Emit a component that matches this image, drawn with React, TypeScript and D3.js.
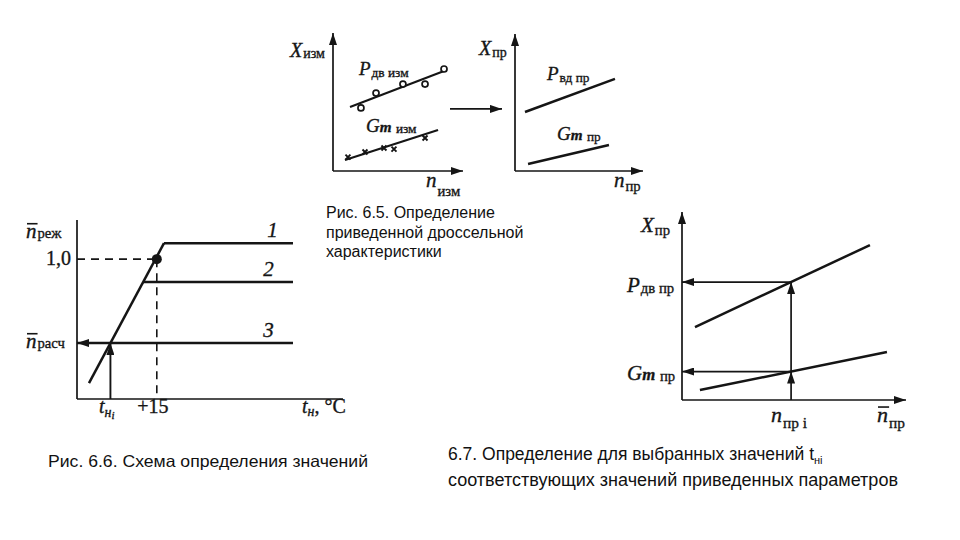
import React from "react";
import * as d3 from "d3";

// Рис. 6.5 — measured throttle characteristic (n_изм, X_изм), arbitrary units 0..10
const pdvMeasured = [[2.15, 4.57], [3.31, 5.65], [5.38, 6.3], [7.08, 6.3], [8.54, 7.39]];
const pdvMeasuredFit = [[1.31, 4.64], [8.54, 7.25]];
const gmMeasured = [[1.15, 1.01], [2.46, 1.38], [3.92, 1.67], [4.69, 1.59], [7.08, 2.39]];
const gmMeasuredFit = [[0.92, 0.8], [8.08, 2.97]];
// reduced characteristic (n_пр, X_пр)
const pvdReduced = [[0.78, 4.31], [7.81, 6.72]];
const gmReduced = [[1.02, 0.51], [7.34, 1.9]];

// Рис. 6.6 — t_н (units) vs n̄
const tempRamp = [[0.45, 0.114], [3.27, 1.114]];
const regimeLevels = [1.114, 0.836, 0.4];
const regimeNames = ["1", "2", "3"];
const regimeEnd = 8.12;
const designPoint = [3.0, 1.0];

// Рис. 6.7 — reduced params vs n̄_пр
const pdvReducedD = [[0.58, 3.88], [8.39, 8.24]];
const gmReducedD = [[0.8, 0.53], [9.15, 2.55]];
const nprI = 4.87;

const SERIF = '"Liberation Serif", "DejaVu Serif", serif';
const SANS = '"Liberation Sans", Arial, sans-serif';
const INK = "#151515";

const line = d3.line<number[]>().x((d) => d[0]).y((d) => d[1]);

function at(pts: number[][], x: number) {
  const [a, b] = pts;
  return a[1] + ((b[1] - a[1]) * (x - a[0])) / (b[0] - a[0]);
}
function xAt(pts: number[][], y: number) {
  const [a, b] = pts;
  return a[0] + ((b[0] - a[0]) * (y - a[1])) / (b[1] - a[1]);
}

// scanned look: a hairline stroke on serif glyphs
const inked = { stroke: INK, strokeWidth: 0.35, paintOrder: "stroke" } as any;

type LblProps = {
  x: number;
  y: number;
  main: string;
  m?: string;
  sub: string;
  dy?: number;
  size?: number;
  bar?: boolean;
};
const Lbl = ({ x, y, main, m, sub, dy = 2, size = 19, bar }: LblProps) => (
  <g>
    <text x={x} y={y} fontFamily={SERIF} fill={INK} style={inked}>
      <tspan fontStyle="italic" fontSize={size}>{main}</tspan>
      {m && (
        <tspan fontStyle="italic" fontSize={size * 0.8} fontWeight="bold">{m}</tspan>
      )}
      <tspan fontSize={size * 0.7} dy={dy} dx={1}>{sub}</tspan>
    </text>
    {bar && (
      <line x1={x + 1} x2={x + size * 0.55} y1={y - size * 0.68} y2={y - size * 0.68} stroke={INK} strokeWidth={1.6} />
    )}
  </g>
);

const App = () => {
  // panel A
  const ax = d3.scaleLinear().domain([0, 10]).range([333, 463]);
  const ay = d3.scaleLinear().domain([0, 10]).range([171, 33]);
  // panel B
  const bx = d3.scaleLinear().domain([0, 10]).range([515, 643]);
  const by = d3.scaleLinear().domain([0, 10]).range([171, 34]);
  // panel C
  const cx = d3.scaleLinear().domain([0, 10]).range([77, 343]);
  const cy = d3.scaleLinear().domain([0, 1.28]).range([399, 220]);
  // panel D
  const dx = d3.scaleLinear().domain([0, 10]).range([682, 906]);
  const dyS = d3.scaleLinear().domain([0, 10]).range([400, 212]);

  const map = (sx: any, sy: any, pts: number[][]) => pts.map((p) => [sx(p[0]), sy(p[1])]);

  const tni = xAt(tempRamp, regimeLevels[2]);
  const upI = at(pdvReducedD, nprI);
  const loI = at(gmReducedD, nprI);

  const thick = { stroke: INK, strokeWidth: 2.5, fill: "none" };
  const axis = { stroke: INK, strokeWidth: 1.7, fill: "none" };

  return (
    <svg width={960} height={540} style={{ position: "absolute", left: 0, top: 0, background: "#fff" }}>
      <defs>
        <marker id="ar" viewBox="0 0 12 8" refX={12} refY={4} markerWidth={12} markerHeight={8}
          markerUnits="userSpaceOnUse" orient="auto">
          <path d="M0,0 L12,4 L0,8 z" fill={INK} />
        </marker>
      </defs>

      {/* ---------- Рис. 6.5, panel A ---------- */}
      <line x1={ax(0)} y1={ay(0)} x2={ax(0)} y2={ay(10)} {...axis} markerEnd="url(#ar)" />
      <line x1={ax(0)} y1={ay(0)} x2={ax(10)} y2={ay(0)} {...axis} markerEnd="url(#ar)" />
      <path d={line(map(ax, ay, pdvMeasuredFit))!} {...thick} strokeWidth={2.1} />
      <path d={line(map(ax, ay, gmMeasuredFit))!} {...thick} strokeWidth={2.1} />
      {pdvMeasured.map((p, i) => (
        <circle key={i} cx={ax(p[0])} cy={ay(p[1])} r={3} fill="#fff" stroke={INK} strokeWidth={1.7} />
      ))}
      {gmMeasured.map((p, i) => (
        <path key={i} d={`M${ax(p[0]) - 2.5},${ay(p[1]) - 2.5}l5,5m0,-5l-5,5`} stroke={INK} strokeWidth={1.9} />
      ))}
      <Lbl x={290} y={57} main="X" sub="изм" dy={1} size={20} />
      <Lbl x={359} y={75} main="P" sub="дв изм" dy={2} size={19} />
      <Lbl x={366} y={132} main="G" m="m" sub=" изм" dy={1} size={19} />
      <Lbl x={426} y={187} main="n" sub="изм" dy={9} size={21} />

      <line x1={450} y1={ay(4.5)} x2={502} y2={ay(4.5)} {...axis} strokeWidth={1.9} markerEnd="url(#ar)" />

      {/* ---------- panel B ---------- */}
      <line x1={bx(0)} y1={by(0)} x2={bx(0)} y2={by(10)} {...axis} markerEnd="url(#ar)" />
      <line x1={bx(0)} y1={by(0)} x2={bx(10)} y2={by(0)} {...axis} markerEnd="url(#ar)" />
      <path d={line(map(bx, by, pvdReduced))!} {...thick} />
      <path d={line(map(bx, by, gmReduced))!} {...thick} />
      <Lbl x={479} y={55} main="X" sub="пр" dy={2} size={20} />
      <Lbl x={547} y={80} main="P" sub="вд пр" dy={2} size={19} />
      <Lbl x={557} y={140} main="G" m="m" sub=" пр" dy={1} size={19} />
      <Lbl x={614} y={187} main="n" sub="пр" dy={4} size={21} />

      <text fontFamily={SANS} fontSize={16} fill="#111">
        {["Рис. 6.5. Определение", "приведенной дроссельной", "характеристики"].map((s, i) => (
          <tspan key={i} x={326} y={218 + i * 19.5}>{s}</tspan>
        ))}
      </text>

      {/* ---------- Рис. 6.6, panel C ---------- */}
      <line x1={cx(0)} y1={cy(0)} x2={cx(0)} y2={cy(1.28)} {...axis} />
      <line x1={cx(0)} y1={cy(0)} x2={cx(10)} y2={cy(0)} {...axis} />
      <path d={line(map(cx, cy, tempRamp))!} {...thick} />
      {regimeLevels.map((lv, i) => {
        const start = i === 2 ? 0 : xAt(tempRamp, lv);
        return (
          <g key={i}>
            <line x1={cx(regimeEnd)} y1={cy(lv)} x2={cx(start)} y2={cy(lv)} {...thick}
              markerEnd={i === 2 ? "url(#ar)" : undefined} />
            <text x={cx(7.0) + (i === 0 ? 4 : 0)} y={cy(lv) - 6} fontFamily={SERIF} fontStyle="italic"
              fontSize={21} fill={INK} style={inked}>{regimeNames[i]}</text>
          </g>
        );
      })}
      <line x1={cx(0)} y1={cy(designPoint[1])} x2={cx(designPoint[0])} y2={cy(designPoint[1])}
        stroke={INK} strokeWidth={1.6} strokeDasharray="8 6" />
      <line x1={cx(designPoint[0])} y1={cy(designPoint[1])} x2={cx(designPoint[0])} y2={cy(0)}
        stroke={INK} strokeWidth={1.6} strokeDasharray="8 6" />
      <circle cx={cx(designPoint[0])} cy={cy(designPoint[1])} r={5} fill={INK} />
      <line x1={cx(tni)} y1={cy(0)} x2={cx(tni)} y2={cy(regimeLevels[2])} {...axis} strokeWidth={1.9}
        markerEnd="url(#ar)" />
      <Lbl x={26} y={238} main="n" sub="реж" dy={0} size={21} bar />
      <text x={71} y={265} textAnchor="end" fontFamily={SERIF} fontSize={20} fill={INK} style={inked}>1,0</text>
      <Lbl x={26} y={348} main="n" sub="расч" dy={0} size={21} bar />
      <text x={99} y={413} fontFamily={SERIF} fill={INK} style={inked}>
        <tspan fontStyle="italic" fontSize={20}>t</tspan>
        <tspan fontStyle="italic" fontSize={14} dy={4}>н</tspan>
        <tspan fontStyle="italic" fontSize={11} dy={2}>i</tspan>
      </text>
      <text x={cx(designPoint[0]) - 4} y={413} textAnchor="middle" fontFamily={SERIF} fontSize={20} fill={INK}
        style={inked}>+15</text>
      <text x={302} y={413} fontFamily={SERIF} fill={INK} style={inked}>
        <tspan fontStyle="italic" fontSize={20}>t</tspan>
        <tspan fontStyle="italic" fontSize={14} dy={3}>н</tspan>
        <tspan fontSize={20} dy={-3}>, °C</tspan>
      </text>
      <text x={48} y={467} fontFamily={SANS} fontSize={16.5} fill="#111" textLength={320}
        lengthAdjust="spacingAndGlyphs">Рис. 6.6. Схема определения значений</text>

      {/* ---------- Рис. 6.7, panel D ---------- */}
      <line x1={dx(0)} y1={dyS(0)} x2={dx(0)} y2={dyS(10)} {...axis} markerEnd="url(#ar)" />
      <line x1={dx(0)} y1={dyS(0)} x2={dx(10)} y2={dyS(0)} {...axis} markerEnd="url(#ar)" />
      <path d={line(map(dx, dyS, pdvReducedD))!} {...thick} />
      <path d={line(map(dx, dyS, gmReducedD))!} {...thick} />
      <line x1={dx(nprI)} y1={dyS(0)} x2={dx(nprI)} y2={dyS(loI)} {...axis} markerEnd="url(#ar)" />
      <line x1={dx(nprI)} y1={dyS(loI)} x2={dx(nprI)} y2={dyS(upI)} {...axis} markerEnd="url(#ar)" />
      <line x1={dx(nprI)} y1={dyS(upI)} x2={dx(0)} y2={dyS(upI)} {...axis} markerEnd="url(#ar)" />
      <line x1={dx(nprI)} y1={dyS(loI)} x2={dx(0)} y2={dyS(loI)} {...axis} markerEnd="url(#ar)" />
      <Lbl x={641} y={232} main="X" sub="пр" dy={3} size={21} />
      <Lbl x={627} y={292} main="P" sub="дв пр" dy={1} size={21} />
      <Lbl x={627} y={380} main="G" m="m" sub=" пр" dy={1} size={21} />
      <Lbl x={771} y={422} main="n" sub="пр i" dy={6} size={22} />
      <Lbl x={877} y={422} main="n" sub="пр" dy={6} size={22} bar />

      <text fontFamily={SANS} fontSize={17.5} fill="#111">
        <tspan x={448} y={460}>6.7. Определение для выбранных значений t</tspan>
        <tspan fontSize={11} dy={4}>нi</tspan>
        <tspan x={448} y={486} textLength={450} lengthAdjust="spacingAndGlyphs">
          соответствующих значений приведенных параметров
        </tspan>
      </text>
    </svg>
  );
};

export default App;
